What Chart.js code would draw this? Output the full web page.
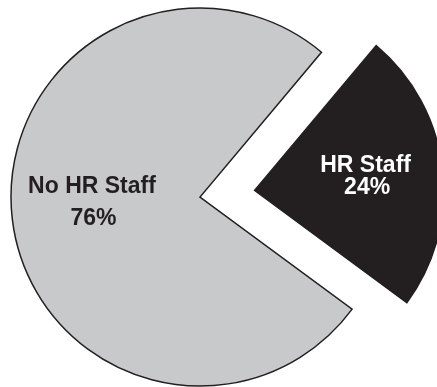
<!DOCTYPE html>
<html>
<head>
<meta charset="utf-8">
<script src="https://cdn.jsdelivr.net/npm/chart.js@4/dist/chart.umd.min.js"></script>
<style>
  html, body { margin: 0; padding: 0; background: #ffffff; }
  #wrap { width: 437px; height: 387px; }
</style>
</head>
<body>
<div id="wrap"><canvas id="staffPie"></canvas></div>
<script>
var categories = ['HR Staff', 'No HR Staff'];
var shares = [24, 76];
var sliceColors = ['#231f20', '#c8c9cb'];
var textColors = ['#ffffff', '#231f20'];

// where each two-line label sits relative to its slice apex
var labelPlace = [
  { dx: 111, lines: [-18, 4] },
  { dx: -108, lines: [-4.5, 27.5] }
];

var sliceLabels = {
  id: 'sliceLabels',
  afterDatasetsDraw: function(chart) {
    var ctx = chart.ctx;
    var arcs = chart.getDatasetMeta(0).data;
    ctx.save();
    ctx.font = 'bold 23px "Liberation Sans", Arial, sans-serif';
    ctx.textAlign = 'center';
    ctx.textBaseline = 'alphabetic';
    arcs.forEach(function(arc, i) {
      var p = arc.getProps(['x', 'y', 'startAngle', 'endAngle'], true);
      var mid = (p.startAngle + p.endAngle) / 2;
      // v4 arcs shift by a quarter of their offset option
      var shift = (arc.options.offset || 0) / 4;
      var ax = p.x + Math.cos(mid) * shift;
      var ay = p.y + Math.sin(mid) * shift;
      var place = labelPlace[i];
      ctx.fillStyle = textColors[i];
      ctx.fillText(categories[i], ax + place.dx, ay + place.lines[0]);
      ctx.fillText(shares[i] + '%', ax + place.dx + 1.5, ay + place.lines[1]);
    });
    ctx.restore();
  }
};

new Chart(document.getElementById('staffPie').getContext('2d'), {
  type: 'pie',
  data: {
    labels: categories,
    datasets: [{
      data: shares,
      backgroundColor: sliceColors,
      borderColor: '#231f20',
      borderWidth: 1.5,
      borderJoinStyle: 'miter',
      offset: [220, 0],
      hoverOffset: 0,
      radius: 189,
      clip: false
    }]
  },
  options: {
    responsive: true,
    maintainAspectRatio: false,
    animation: false,
    events: [],
    rotation: 40,
    layout: { padding: { left: 0, right: 37, top: 7, bottom: 0 } },
    plugins: {
      legend: { display: false },
      tooltip: { enabled: false }
    }
  },
  plugins: [sliceLabels]
});
</script>
</body>
</html>
